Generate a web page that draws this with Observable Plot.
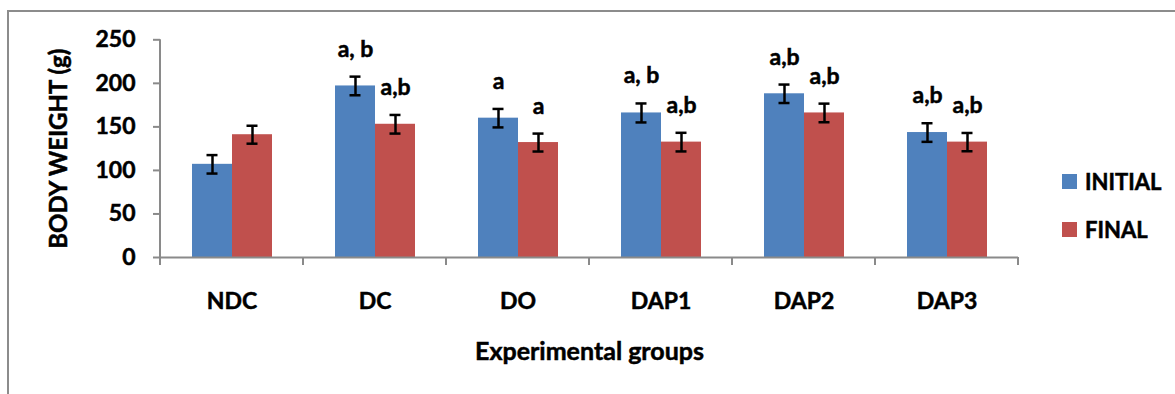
<!DOCTYPE html>
<html>
<head>
<meta charset="utf-8">
<script src="https://cdn.jsdelivr.net/npm/d3@7"></script>
<script src="https://cdn.jsdelivr.net/npm/@observablehq/plot@0.6"></script>
<style>
  html, body { margin: 0; padding: 0; background: #fff; }
  #wrap { position: relative; width: 1175px; height: 394px; overflow: hidden; font-family: Lato, "Open Sans", sans-serif; font-weight: bold; }
  #border { position: absolute; left: 7px; top: 10px; width: 1400px; height: 600px; border: 2px solid #8c8c8c; box-sizing: border-box; }
  #chart { position: absolute; left: 0; top: 0; }
  #chart text { stroke: #000; stroke-width: 0.5px; }
  #legend { position: absolute; left: 1062px; top: 168px; }
  .item { display: flex; align-items: center; height: 26px; margin-bottom: 22px; font-size: 22px; color: #000; -webkit-text-stroke: 0.5px #000; }
  .sw { width: 15px; height: 15px; margin-right: 8px; }
</style>
</head>
<body>
<div id="wrap">
  <div id="border"></div>
  <div id="chart"></div>
  <div id="legend"></div>
</div>
<script>
// ---- data ----
const groups = ["NDC", "DC", "DO", "DAP1", "DAP2", "DAP3"];
const series = ["INITIAL", "FINAL"];
const initialValues = [107, 197, 160, 166, 188, 143.5];
const finalValues = [141, 153, 132, 132.5, 166, 132.5];
const initialErrors = [10.6, 10.7, 10.6, 10.9, 10.6, 10.7];
const finalErrors = [10.3, 10.7, 10.3, 10.7, 10.7, 10.5];
const initialLabels = ["", "a, b", "a", "a, b", "a,b", "a,b"];
const finalLabels = ["", "a,b", "a", "a,b", "a,b", "a,b"];
const yTicks = [0, 50, 100, 150, 200, 250];
const yTitle = "BODY WEIGHT (g)";
const xTitle = "Experimental groups";
const colors = ["#4F81BD", "#C0504D"];

const rows = groups.flatMap((g, i) => [
  {group: g, series: series[0], value: initialValues[i], err: initialErrors[i], label: initialLabels[i]},
  {group: g, series: series[1], value: finalValues[i], err: finalErrors[i], label: finalLabels[i]}
]);
const edges = groups.map((g, i) => ({group: g, first: i === 0, last: i === groups.length - 1}));

const axisGray = "#8a8a8a";

const plot = Plot.plot({
  width: 1175,
  height: 394,
  marginLeft: 158,
  marginRight: 155,
  marginTop: 39.3,
  marginBottom: 137,
  style: {fontFamily: "Lato, 'Open Sans', sans-serif", fontWeight: "bold", fontSize: "23px", color: "#000", background: "transparent", overflow: "visible"},
  fx: {domain: groups, padding: 0, label: null},
  x: {domain: series, paddingInner: 0, paddingOuter: 0.75, axis: null},
  y: {domain: [0, 250], axis: null},
  color: {domain: series, range: colors},
  marks: [
    Plot.barY(rows, {fx: "group", x: "series", y: "value", fill: "series"}),
    Plot.ruleY([0], {stroke: axisGray, strokeWidth: 2}),
    Plot.ruleX(rows, {fx: "group", x: "series", y1: d => d.value - d.err, y2: d => d.value + d.err, stroke: "#000", strokeWidth: 2.5}),
    Plot.tickY(rows, {fx: "group", x: "series", y: d => d.value + d.err, stroke: "#000", strokeWidth: 2.5, insetLeft: 14.5, insetRight: 14.5}),
    Plot.tickY(rows, {fx: "group", x: "series", y: d => d.value - d.err, stroke: "#000", strokeWidth: 2.5, insetLeft: 14.5, insetRight: 14.5}),
    Plot.text(rows, {fx: "group", x: "series", y: d => d.value + d.err, text: "label", lineAnchor: "bottom", dy: -20, fontSize: 23, fontWeight: "bold", fill: "#000"}),
    Plot.ruleY(edges, {
      fx: "group", y: 0, stroke: "none",
      render: (index, scales, values, dims) => {
        const g = d3.create("svg:g");
        const x0 = dims.marginLeft;
        const x1 = dims.width - dims.marginRight;
        const y0 = scales.y(0);
        const yTop = scales.y(250);
        for (const i of index) {
          const d = edges[i];
          g.append("line").attr("x1", x0).attr("x2", x0).attr("y1", y0).attr("y2", y0 + 8).attr("stroke", axisGray).attr("stroke-width", 2);
          if (d.last) g.append("line").attr("x1", x1).attr("x2", x1).attr("y1", y0).attr("y2", y0 + 8).attr("stroke", axisGray).attr("stroke-width", 2);
          if (d.first) g.append("line").attr("x1", x0).attr("x2", x0).attr("y1", yTop).attr("y2", y0).attr("stroke", axisGray).attr("stroke-width", 2);
        }
        return g.node();
      }
    }),
    Plot.axisY({ticks: yTicks, tickSize: 7, tickPadding: 18, stroke: axisGray, strokeWidth: 2, fill: "#000", fontSize: 23, label: null}),
    Plot.axisFx({anchor: "bottom", tickSize: 0, tickPadding: 35, fill: "#000", fontSize: 23, label: null}),
    Plot.text([yTitle], {text: d => d, frameAnchor: "left", facet: "super", rotate: -90, dx: -101, lineAnchor: "middle", textAnchor: "middle", fontSize: 24, fontWeight: "bold", fill: "#000"}),
    Plot.text([xTitle], {text: d => d, frameAnchor: "bottom", facet: "super", lineAnchor: "bottom", dy: 102, fontSize: 25, fontWeight: "bold", fill: "#000"})
  ]
});
document.getElementById("chart").appendChild(plot);

const legend = document.getElementById("legend");
series.forEach((s, i) => {
  const item = document.createElement("div");
  item.className = "item";
  const sw = document.createElement("div");
  sw.className = "sw";
  sw.style.background = colors[i];
  const t = document.createElement("span");
  t.textContent = s;
  item.appendChild(sw);
  item.appendChild(t);
  legend.appendChild(item);
});
</script>
</body>
</html>
